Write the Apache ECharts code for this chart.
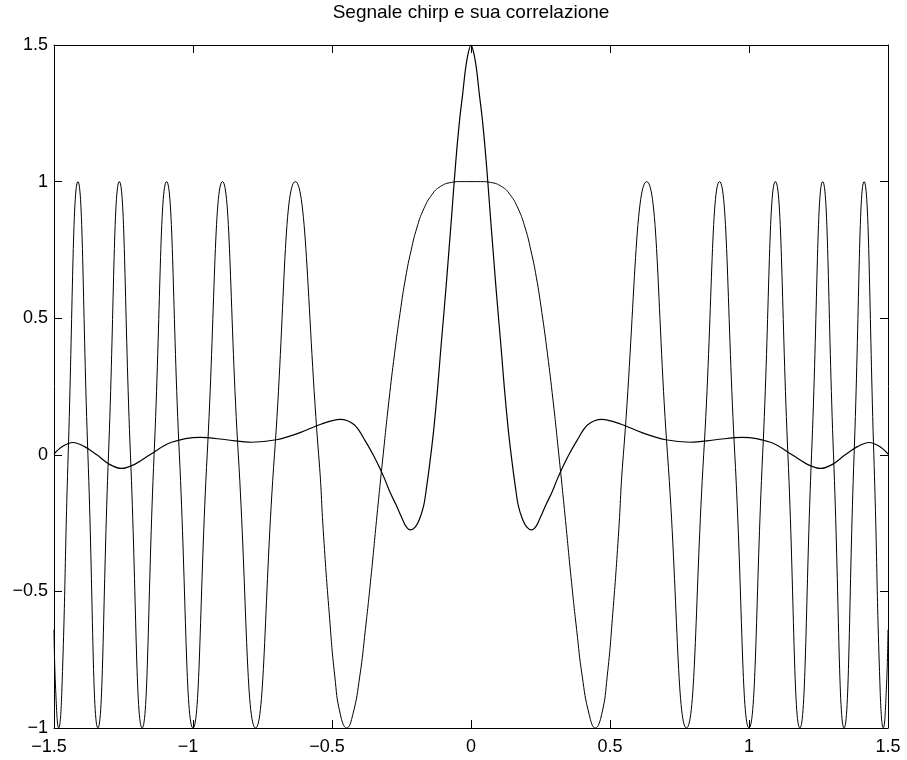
<!DOCTYPE html>
<html>
<head>
<meta charset="utf-8">
<script src="https://cdn.jsdelivr.net/npm/echarts@6/dist/echarts.min.js"></script>
<style>
html,body{margin:0;padding:0;background:#fff;}
#chart{width:907px;height:760px;}
</style>
</head>
<body>
<div id="chart"></div>
<script>
// Title
var chartTitle = 'Segnale chirp e sua correlazione';

// Axis ticks
var xTicks = [-1.5, -1, -0.5, 0, 0.5, 1, 1.5];
var yTicks = [-1, -0.5, 0, 0.5, 1, 1.5];

// Chirp signal: points (extremes and zero crossings, denser in the centre)
var chirpX = [-1.5, -1.494, -1.483, -1.472, -1.449, -1.414, -1.378, -1.342, -1.304, -1.265, -1.225, -1.183, -1.140, -1.095, -1.049, -1.0, -0.949, -0.894, -0.837, -0.775, -0.707, -0.632,
              -0.548, -0.53, -0.51, -0.49, -0.47, -0.447, -0.425, -0.40, -0.38, -0.36, -0.338, -0.316, -0.295, -0.275, -0.255, -0.235, -0.215, -0.195, -0.17, -0.14, -0.11, -0.07, -0.035, 0,
              0.035, 0.07, 0.11, 0.14, 0.17, 0.195, 0.215, 0.235, 0.255, 0.275, 0.295, 0.316, 0.338, 0.36, 0.38, 0.40, 0.425, 0.447, 0.47, 0.49, 0.51, 0.53, 0.548,
              0.632, 0.707, 0.775, 0.837, 0.894, 0.949, 1.0, 1.049, 1.095, 1.140, 1.183, 1.225, 1.265, 1.304, 1.342, 1.378, 1.414, 1.449, 1.472, 1.483, 1.494, 1.5];
var chirpY = [-0.64, -0.86, -1, -0.87, 0, 1, 0, -1, 0, 1, 0, -1, 0, 1, 0, -1, 0, 1, 0, -1, 0, 1,
              0, -0.3, -0.58, -0.81, -0.95, -1, -0.95, -0.81, -0.64, -0.45, -0.22, 0, 0.2, 0.37, 0.52, 0.65, 0.75, 0.83, 0.9, 0.953, 0.982, 0.997, 1, 1,
              1, 0.997, 0.982, 0.953, 0.9, 0.83, 0.75, 0.65, 0.52, 0.37, 0.2, 0, -0.22, -0.45, -0.64, -0.81, -0.95, -1, -0.95, -0.81, -0.58, -0.3, 0,
              1, 0, -1, 0, 1, 0, -1, 0, 1, 0, -1, 0, 1, 0, -1, 0, 1, 0, -0.87, -1, -0.86, -0.64];

// Correlation: points
var corrX = [-1.5, -1.47, -1.432, -1.39, -1.346, -1.30, -1.257, -1.21, -1.155, -1.08, -0.975, -0.88, -0.79, -0.70, -0.615, -0.54, -0.471, -0.42, -0.38,
             -0.352, -0.33, -0.31, -0.29, -0.27, -0.25, -0.235, -0.218, -0.20, -0.185, -0.17, -0.16, -0.15, -0.135, -0.12, -0.11, -0.1, -0.09, -0.08, -0.07, -0.06, -0.05, -0.04, -0.03, -0.02, -0.01, 0,
             0.01, 0.02, 0.03, 0.04, 0.05, 0.06, 0.07, 0.08, 0.09, 0.1, 0.11, 0.12, 0.135, 0.15, 0.16, 0.17, 0.185, 0.20, 0.218, 0.235, 0.25, 0.27, 0.29, 0.31, 0.33, 0.352,
             0.38, 0.42, 0.471, 0.54, 0.615, 0.70, 0.79, 0.88, 0.975, 1.08, 1.155, 1.21, 1.257, 1.30, 1.346, 1.39, 1.432, 1.47, 1.5];
var corrY = [0.003, 0.03, 0.045, 0.03, 0.0, -0.035, -0.05, -0.035, 0.0, 0.045, 0.064, 0.055, 0.046, 0.055, 0.081, 0.112, 0.13, 0.11, 0.05,
             0.0, -0.045, -0.09, -0.14, -0.182, -0.228, -0.26, -0.275, -0.264, -0.235, -0.185, -0.12, -0.045, 0.083, 0.245, 0.37, 0.49, 0.61, 0.74, 0.87, 1.005, 1.13, 1.235, 1.32, 1.41, 1.47, 1.5,
             1.47, 1.41, 1.32, 1.235, 1.13, 1.005, 0.87, 0.74, 0.61, 0.49, 0.37, 0.245, 0.083, -0.045, -0.12, -0.185, -0.235, -0.264, -0.275, -0.26, -0.228, -0.182, -0.14, -0.09, -0.045, 0.0,
             0.05, 0.11, 0.13, 0.112, 0.081, 0.055, 0.046, 0.055, 0.064, 0.045, 0.0, -0.035, -0.05, -0.035, 0.0, 0.03, 0.045, 0.03, 0.003];

function pairs(xs, ys) { return xs.map(function (x, i) { return [x, ys[i]]; }); }
function fmt(v) { return String(v).replace('-', '\u2212'); }
function fmtX(v) { return v < 0 ? '{neg|' + fmt(v) + '}' : fmt(v); }

var FONT = '"Liberation Sans", Arial, Helvetica, sans-serif';
var FS = 18;
var L = 54, R = 888, T = 45, B = 728;

var chart = echarts.init(document.getElementById('chart'), null, {renderer: 'canvas'});

function axisCommon(show) {
  return {
    type: 'value',
    axisLine: {show: true, onZero: false, lineStyle: {color: '#000', width: 1}},
    axisTick: {show: true, inside: true, length: 8, lineStyle: {color: '#000', width: 1}},
    splitLine: {show: false},
    axisLabel: {show: show, color: '#000', fontFamily: FONT, fontSize: FS, formatter: fmt, showMinLabel: true, showMaxLabel: true}
  };
}

var xb = axisCommon(true); xb.min = xTicks[0]; xb.max = xTicks[xTicks.length - 1]; xb.interval = 0.5; xb.position = 'bottom';
xb.axisLabel.margin = 10; xb.axisLabel.formatter = fmtX;
xb.axisLabel.rich = {neg: {color: '#000', fontFamily: FONT, fontSize: FS, padding: [0, 10, 0, 0]}};
var xt = axisCommon(false); xt.min = xTicks[0]; xt.max = xTicks[xTicks.length - 1]; xt.interval = 0.5; xt.position = 'top';
var yl = axisCommon(true); yl.min = yTicks[0]; yl.max = yTicks[yTicks.length - 1]; yl.interval = 0.5; yl.position = 'left'; yl.axisLabel.margin = 6;
var yr = axisCommon(false); yr.min = yTicks[0]; yr.max = yTicks[yTicks.length - 1]; yr.interval = 0.5; yr.position = 'right';

chart.setOption({
  animation: false,
  backgroundColor: '#fff',
  grid: {left: L, right: 907 - R, top: T, bottom: 760 - B, containLabel: false, outerBoundsMode: 'none'},
  xAxis: [xb, xt],
  yAxis: [yl, yr],
  graphic: [{
    type: 'text', x: (L + R) / 2, y: 13,
    style: {text: chartTitle, fill: '#000', font: '19px ' + FONT, textAlign: 'center', textVerticalAlign: 'middle'}
  }],
  series: [
    {
      type: 'line', xAxisIndex: 0, yAxisIndex: 0, data: pairs(chirpX, chirpY),
      showSymbol: false, smooth: 0.5, silent: true,
      lineStyle: {color: '#000', width: 1}
    },
    {
      type: 'line', xAxisIndex: 0, yAxisIndex: 0, data: pairs(corrX, corrY),
      showSymbol: false, smooth: 0.35, silent: true,
      lineStyle: {color: '#000', width: 1.2}
    }
  ]
});
</script>
</body>
</html>
